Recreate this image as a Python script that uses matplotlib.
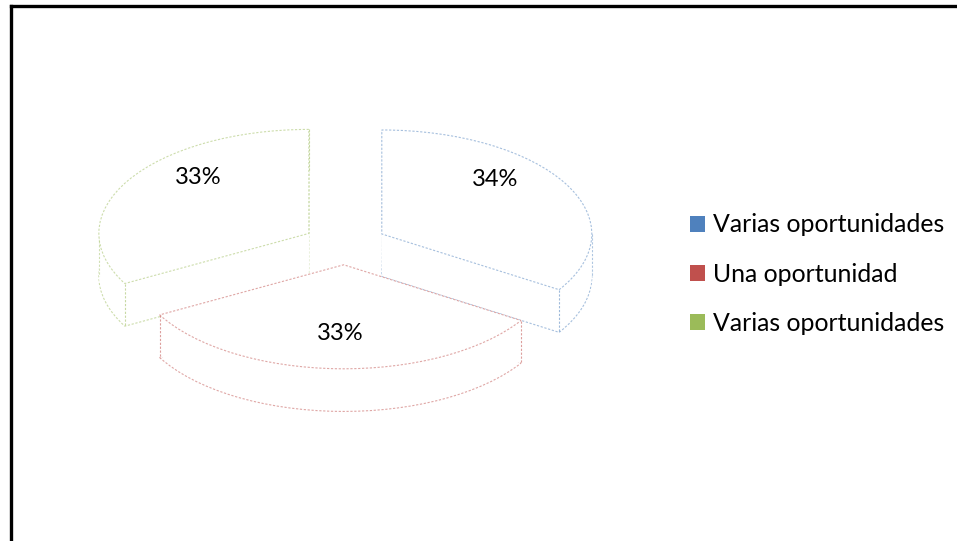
import numpy as np
import matplotlib.pyplot as plt
from matplotlib.patches import Patch
from matplotlib.lines import Line2D
from matplotlib.colors import to_rgba

plt.rcParams['font.family'] = ['Lato', 'DejaVu Sans']

labels = ["Varias oportunidades", "Una oportunidad", "Varias oportunidades"]
values = [34, 33, 33]
colors = ["#4F81BD", "#C0504D", "#9BBB59"]
explode = [0.2, 0.2, 0.2]
depth = 0.41

W, H = 957, 541
fig = plt.figure(figsize=(W / 100, H / 100), dpi=100)

# outer chart border (only left and top are visible in the picture)
fig.add_artist(Line2D([11 / W, 11 / W], [0, 1 - 6 / H], color="black", lw=2.4))
fig.add_artist(Line2D([11 / W, 1], [1 - 6 / H, 1 - 6 / H], color="black", lw=2.4))

# pie axes: 1 unit = 210 px wide, 104 px tall -> flattened "3D" look
sx, sy = 210, 104
cx0, cy0 = 345, 244
x0, x1, y0, y1 = -1.6, 1.6, -1.9, 1.4
ax = fig.add_axes([(cx0 + x0 * sx) / W, (H - cy0 + y0 * sy) / H,
                   (x1 - x0) * sx / W, (y1 - y0) * sy / H])

dash = (0, (2, 1.5))

# bottom face (shifted down by depth)
bot, _ = ax.pie(values, explode=explode, startangle=90, counterclock=False,
                center=(0, -depth), colors=["white"] * 3,
                wedgeprops=dict(linewidth=0.8))
for w, c in zip(bot, colors):
    w.set_edgecolor(to_rgba(c, 0.5))
    w.set_linestyle(dash)
    w.set_zorder(1)

# solid white body between the faces (hides the hidden bottom edges)
for k in range(1, 16):
    body, _ = ax.pie(values, explode=explode, startangle=90, counterclock=False,
                     center=(0, -depth * k / 16), colors=["white"] * 3,
                     wedgeprops=dict(linewidth=0))
    for w in body:
        w.set_zorder(1.2)

# side walls at the radii ends and arc extremes of each wedge
for w, c in zip(bot, colors):
    cx, cy = w.center
    cy = cy + depth
    for ang in (w.theta1, w.theta2):
        x = cx + np.cos(np.radians(ang))
        y = cy + np.sin(np.radians(ang))
        ax.plot([x, x], [y, y - depth], color=c, lw=0.8, alpha=0.55,
                ls=dash, zorder=1.5)
    for ang in (0, 180):
        a1, a2 = w.theta1 % 360, w.theta2 % 360
        inside = (a1 <= ang <= a2) if a1 <= a2 else (ang >= a1 or ang <= a2)
        if inside:
            x = cx + np.cos(np.radians(ang))
            ax.plot([x, x], [cy, cy - depth], color=c, lw=0.8, alpha=0.45,
                    ls=dash, zorder=1.5)

# top face
top, _ = ax.pie(values, explode=explode, startangle=90, counterclock=False,
                colors=["white"] * 3, wedgeprops=dict(linewidth=0.8))
for w, c in zip(top, colors):
    w.set_edgecolor(to_rgba(c, 0.5))
    w.set_linestyle(dash)
    w.set_zorder(2)

# percentage labels, pulled toward the vertical axis like the 3D layout
total = sum(values)
for w, v in zip(top, values):
    cx, cy = w.center
    bis = (w.theta1 + w.theta2) / 2
    bis = (bis + 180) % 360 - 180
    ref = 90 if bis >= 0 else -90
    ang = ref + (bis - ref) * 0.75
    r = 0.75 if ref == 90 else 0.66
    ax.text(cx + r * np.cos(np.radians(ang)), cy + r * np.sin(np.radians(ang)),
            f"{100 * v / total:.0f}%", ha="center", va="center",
            fontsize=17, color="black", zorder=3)

ax.set_aspect("auto")
ax.set_xlim(x0, x1)
ax.set_ylim(y0, y1)
ax.axis("off")

handles = [Patch(facecolor=c, edgecolor="none") for c in colors]
fig.legend(handles, labels, loc="center left", bbox_to_anchor=(668 / W, 1 - 274 / H),
           frameon=False, fontsize=17.9, handlelength=0.6, handleheight=0.6,
           handletextpad=0.3, labelspacing=1.05)

fig.savefig("out.png", dpi=100, facecolor="white")
